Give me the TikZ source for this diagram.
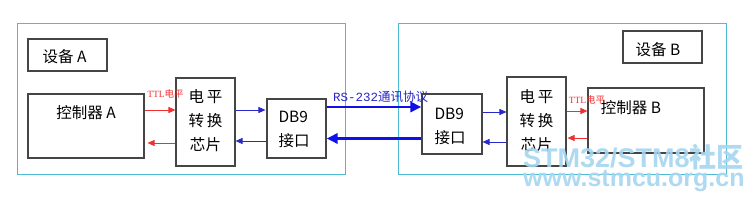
\documentclass[tikz,border=0pt]{standalone}
\usepackage{fontspec}
\setmainfont{Liberation Sans}
\newfontfamily\cjk{Noto Sans CJK SC}
\newfontfamily\cjkb{Noto Sans CJK SC Bold}
\newfontfamily\monof{Liberation Mono}
\usetikzlibrary{arrows.meta}
\definecolor{outercol}{HTML}{4BBCD4}
\definecolor{boxcol}{HTML}{454545}
\definecolor{redar}{HTML}{F03030}
\definecolor{bluear}{HTML}{2828C8}
\definecolor{thickblue}{HTML}{1010E8}
\definecolor{wmcol}{HTML}{A6D6F0}
\tikzset{
  outerbox/.style={draw=outercol, line width=0.9pt, fill=none},
  blockbox/.style={draw=boxcol, line width=1.1pt, fill=white, inner sep=0pt},
  cjktext/.style={font=\cjk\fontsize{15.5}{24}\selectfont, text=black, inner sep=0pt},
  redarrow/.style={draw=redar, line width=0.9pt, -{Triangle[length=7pt,width=6pt]}},
  bluethin/.style={draw=bluear, line width=0.9pt, -{Triangle[length=7pt,width=6pt]}},
  bluethick/.style={draw=thickblue, line width=2.6pt, -{Triangle[length=11pt,width=10pt]}},
  ttllabel/.style={font=\cjk\fontsize{9.5}{10}\selectfont, text=redar, inner sep=0pt},
  rslabel/.style={font=\fontsize{12.5}{13}\selectfont, text=bluear, inner sep=0pt},
  wmtext/.style={text=wmcol, inner sep=0pt, opacity=0.9}
}
\begin{document}
\begin{tikzpicture}[x=1pt,y=-1pt]
\useasboundingbox (0,0) rectangle (755,200);
\fill[white] (0,0) rectangle (755,200);
% outer device frames
\draw[outerbox] (17,23) rectangle (345,174);
\draw[outerbox] (398,23) rectangle (726,174);
% device A
\node[blockbox, minimum width=79pt, minimum height=32pt] (devA) at (67.5,55) {};
\node[cjktext] (devAt) at (64.5,57) {设备 A};
\node[blockbox, minimum width=116pt, minimum height=64pt] (ctrlA) at (86,126) {};
\node[cjktext] (ctrlAt) at (86,113) {控制器 A};
\node[blockbox, minimum width=59pt, minimum height=88pt] (chipA) at (205.5,122) {};
\node[cjktext, align=center] (chipAt) at (205.5,121) {电\hspace{3pt}平\\转\hspace{3pt}换\\芯\hspace{0.5pt}片};
\node[blockbox, minimum width=59pt, minimum height=59pt] (dbA) at (296.5,128.5) {};
\node[cjktext, align=left] (dbAt) at (294,129.5) {DB9\\接口};
% device B
\node[blockbox, minimum width=79pt, minimum height=32pt] (devB) at (662.5,47) {};
\node[cjktext] (devBt) at (658,50) {设备 B};
\node[blockbox, minimum width=116pt, minimum height=65pt] (ctrlB) at (646,120.5) {};
\node[cjktext] (ctrlBt) at (631,108) {控制器 B};
\node[blockbox, minimum width=59pt, minimum height=89pt] (chipB) at (536.5,121.5) {};
\node[cjktext, align=center] (chipBt) at (536.5,120.5) {电\hspace{3pt}平\\转\hspace{3pt}换\\芯\hspace{0.5pt}片};
\node[blockbox, minimum width=60pt, minimum height=60pt] (dbB) at (452,124) {};
\node[cjktext, align=left] (dbBt) at (450,126) {DB9\\接口};
% A side arrows
\draw[redarrow] (ctrlA.east |- 0,110) -- (chipA.west |- 0,110);
\draw[redarrow] (chipA.west |- 0,143) -- ([xshift=3pt]ctrlA.east |- 0,143);
\node[ttllabel] (ttlA) at (165.5,94) {\fontspec{Liberation Serif}TTL\cjk 电平};
\draw[bluethin] (chipA.east |- 0,110) -- ([xshift=-1pt]dbA.west |- 0,110);
\draw[bluethin] (dbA.west |- 0,141) -- (chipA.east |- 0,141);
% link
\draw[bluethick] (dbA.east |- 0,107) -- (dbB.west |- 0,107);
\draw[bluethick] (dbB.west |- 0,138.5) -- (dbA.east |- 0,138.5);
\node[rslabel, anchor=west] (rs) at (333,97) {\monof RS-232\cjk 通讯协议};
% B side arrows
\draw[bluethin] (dbB.east |- 0,112) -- (chipB.west |- 0,112);
\draw[bluethin] (chipB.west |- 0,142) -- (dbB.east |- 0,142);
\draw[redarrow] (chipB.east |- 0,111) -- (ctrlB.west |- 0,111);
\draw[redarrow] (ctrlB.west |- 0,138) -- ([xshift=1pt]chipB.east |- 0,138);
\node[ttllabel] (ttlB) at (587,100) {\fontspec{Liberation Serif}TTL\cjk 电平};
% watermark
\node[wmtext, anchor=west] (wm1) at (523,157) {\fontsize{27}{28}\selectfont\bfseries STM32/STM8\cjkb 社区};
\node[wmtext, anchor=west] (wm2) at (523,181) {\fontsize{25}{26}\selectfont\bfseries www.stmcu.org.cn};
\end{tikzpicture}
\end{document}
